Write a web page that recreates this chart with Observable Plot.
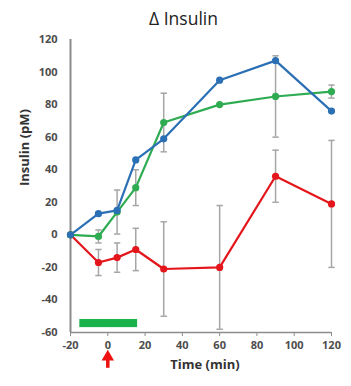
<!DOCTYPE html>
<html>
<head>
<meta charset="utf-8">
<script src="https://cdn.jsdelivr.net/npm/d3@7"></script>
<script src="https://cdn.jsdelivr.net/npm/@observablehq/plot@0.6"></script>
<style>
  body { margin: 0; background: #fff; font-family: "Open Sans", sans-serif; }
  #title { width: 351px; height: 30px; text-align: center; font-size: 17.5px; line-height: 36px; color: #222; padding-left: 16px; box-sizing: border-box; }
  svg { display: block; }
</style>
</head>
<body>
<div id="title">Δ Insulin</div>
<div id="chart"></div>
<script>
const time = [-20, -5, 5, 15, 30, 60, 90, 120];
const blue = [0, 13, 15, 46, 59, 95, 107, 76];
const green = [0, -1, 14, 29, 69, 80, 85, 88];
const red = [0, -17, -14, -9, -21, -20, 36, 19];
const greenErr = [null, 4, 13.5, 11, 18, null, 25, 4];
const redErr = [null, 8, 9, 13, 29, 38, 16, 39];
const xTicks = [-20, 0, 20, 40, 60, 80, 100, 120];
const yTicks = [-60, -40, -20, 0, 20, 40, 60, 80, 100, 120];
const xLabel = "Time (min)";
const yLabel = "Insulin (pM)";
const infusionStart = [-15];
const infusionEnd = [16];
const infusionLevel = [-52, -57];
const arrowTime = [0];
const arrowLevel = [-75, -82];

const colors = {Blue: "#2b70b5", Green: "#2fac52", Red: "#e4161c"};
const series = [
  {name: "Red", values: red, err: redErr},
  {name: "Green", values: green, err: greenErr},
  {name: "Blue", values: blue, err: time.map(() => null)}
];
const rows = series.flatMap(s => time.map((t, i) => ({series: s.name, t, v: s.values[i], e: s.err[i]})));
const errRows = rows.filter(d => d.e != null);
const capHalf = 1.7;
const fmt = d => String(d);

const chart = Plot.plot({
  width: 351,
  height: 356,
  marginLeft: 70,
  marginRight: 20,
  marginTop: 9,
  marginBottom: 54,
  style: {fontFamily: "Open Sans, sans-serif", fontSize: "11px", fontWeight: "bold", color: "#595959", background: "#fff"},
  x: {domain: [-20, 120], ticks: xTicks},
  y: {domain: [-60, 120], ticks: yTicks},
  marks: [
    Plot.axisY({ticks: yTicks, tickSize: 0, tickPadding: 13, tickFormat: fmt, label: null, fill: "#4d4d4d"}),
    Plot.axisX({ticks: xTicks, tickSize: 4, tickPadding: 5, tickFormat: fmt, label: null, fill: "#4d4d4d", stroke: "#8c8c8c"}),
    Plot.text([yLabel], {frameAnchor: "left", dx: -46, rotate: -90, text: d => d, fontSize: 13, fontWeight: "bold", fill: "#333"}),
    Plot.text([xLabel], {frameAnchor: "bottom", dy: 36, dx: 4, text: d => d, fontSize: 13, fontWeight: "bold", fill: "#333"}),
    Plot.ruleX([-20], {stroke: "#8c8c8c", strokeWidth: 2}),
    Plot.ruleY([-60], {stroke: "#8c8c8c", strokeWidth: 1.5}),
    Plot.ruleX(errRows, {x: "t", y1: d => d.v - d.e, y2: d => d.v + d.e, stroke: "#a6a6a6", strokeWidth: 1.5}),
    Plot.link(errRows, {x1: d => d.t - capHalf, x2: d => d.t + capHalf, y1: d => d.v + d.e, y2: d => d.v + d.e, stroke: "#a6a6a6", strokeWidth: 1.5}),
    Plot.link(errRows, {x1: d => d.t - capHalf, x2: d => d.t + capHalf, y1: d => d.v - d.e, y2: d => d.v - d.e, stroke: "#a6a6a6", strokeWidth: 1.5}),
    Plot.line(rows, {x: "t", y: "v", z: "series", stroke: d => colors[d.series], strokeWidth: 2.2}),
    Plot.dot(rows, {x: "t", y: "v", fill: d => colors[d.series], r: 3.6}),
    Plot.rect([0], {x1: () => infusionStart[0], x2: () => infusionEnd[0], y1: () => infusionLevel[0], y2: () => infusionLevel[1], fill: "#19b24b"}),
    Plot.ruleX(arrowTime, {x: d => d, y1: () => arrowLevel[0] - 2, y2: () => arrowLevel[1], stroke: "#ee1111", strokeWidth: 3.5}),
    Plot.dot(arrowTime, {x: d => d, y: () => arrowLevel[0], symbol: "triangle", r: 4.6, fill: "#ee1111"})
  ]
});
document.getElementById("chart").appendChild(chart);
</script>
</body>
</html>
